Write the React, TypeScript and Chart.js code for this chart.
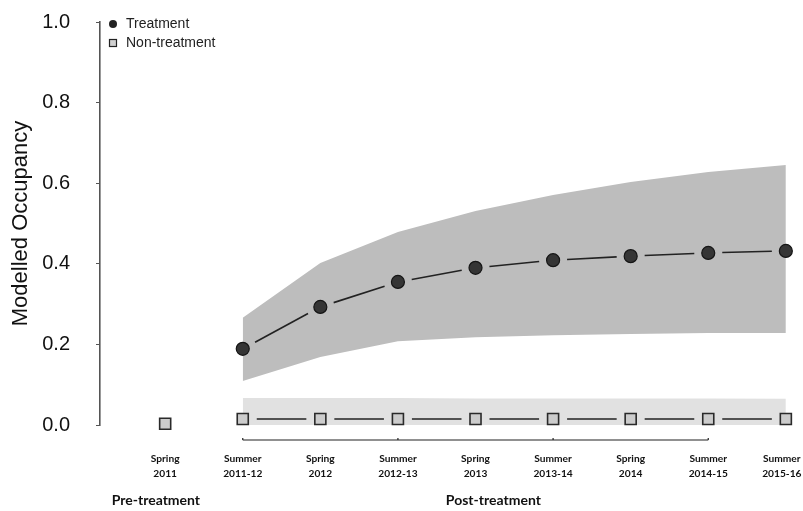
import React, { useEffect, useRef } from 'react';
import { Chart, registerables } from 'chart.js';

Chart.register(...registerables);

const categories: string[][] = [
  ['Spring', '2011'],
  ['Summer', '2011-12'],
  ['Spring', '2012'],
  ['Summer', '2012-13'],
  ['Spring', '2013'],
  ['Summer', '2013-14'],
  ['Spring', '2014'],
  ['Summer', '2014-15'],
  ['Summer', '2015-16'],
];

const treatment = [null, 0.189, 0.293, 0.355, 0.39, 0.409, 0.419, 0.427, 0.432];
const treatmentUpper = [null, 0.266, 0.402, 0.479, 0.531, 0.571, 0.603, 0.628, 0.645];
const treatmentLower = [null, 0.109, 0.169, 0.208, 0.218, 0.223, 0.226, 0.228, 0.228];

const nonTreatment = [0.003, 0.015, 0.015, 0.015, 0.015, 0.015, 0.015, 0.015, 0.015];
const nonTreatmentUpper = [null, 0.067, 0.067, 0.067, 0.066, 0.066, 0.066, 0.066, 0.065];
const nonTreatmentLower = [null, 0, 0, 0, 0, 0, 0, 0, 0];

const yTicks = [0, 0.2, 0.4, 0.6, 0.8, 1.0];

const legendLabels = ['Treatment', 'Non-treatment'];
const phaseLabels = ['Pre-treatment', 'Post-treatment'];

const toPts = (arr: (number | null)[]) => arr.map((v, i) => ({ x: i, y: v }));

const gapLinePlugin = {
  id: 'gapLines',
  afterDatasetsDraw(chart: any) {
    const ctx = chart.ctx;
    ctx.save();
    ctx.strokeStyle = '#222';
    ctx.lineWidth = 1.6;
    [0, 1].forEach((di) => {
      const meta = chart.getDatasetMeta(di);
      const pts = meta.data;
      for (let j = 1; j < pts.length - 1; j++) {
        const a = pts[j];
        const b = pts[j + 1];
        if (!a || !b || a.skip || b.skip) continue;
        const dx = b.x - a.x;
        const dy = b.y - a.y;
        const len = Math.sqrt(dx * dx + dy * dy);
        const gap = 14;
        if (len <= gap * 2) continue;
        const ux = dx / len;
        const uy = dy / len;
        ctx.beginPath();
        ctx.moveTo(a.x + ux * gap, a.y + uy * gap);
        ctx.lineTo(b.x - ux * gap, b.y - uy * gap);
        ctx.stroke();
      }
    });
    ctx.restore();
  },
};

// keep the last x label inside the canvas, as in the reference
const edgeLabelPlugin = {
  id: 'edgeLabel',
  beforeDraw(chart: any) {
    const xs = chart.scales.x;
    if (!xs || !xs.getLabelItems) return;
    const items = xs.getLabelItems();
    const last = items[items.length - 1];
    if (last && last.options && last.options.translation && !last.__shifted) {
      last.options.translation[0] -= 4;
      last.__shifted = true;
    }
  },
};

const decorPlugin = {
  id: 'decor',
  afterDraw(chart: any) {
    const ctx = chart.ctx;
    const xs = chart.scales.x;
    const ys = chart.scales.y;
    const area = chart.chartArea;
    ctx.save();

    // bracket under post-treatment points
    const by = ys.bottom + 15;
    const x1 = xs.getPixelForValue(1);
    const x2 = xs.getPixelForValue(7);
    ctx.strokeStyle = '#222';
    ctx.lineWidth = 1.2;
    ctx.beginPath();
    ctx.moveTo(x1, by);
    ctx.lineTo(x2, by);
    [1, 3, 5, 7].forEach((i) => {
      const px = xs.getPixelForValue(i);
      ctx.moveTo(px, by - 2);
      ctx.lineTo(px, by);
    });
    ctx.stroke();

    // phase labels
    ctx.fillStyle = '#111';
    ctx.font = 'bold 14px Lato, "Open Sans", sans-serif';
    ctx.textAlign = 'center';
    ctx.textBaseline = 'middle';
    ctx.fillText(phaseLabels[0], xs.getPixelForValue(-0.12), 500);
    ctx.fillText(phaseLabels[1], xs.getPixelForValue(4.23), 500);

    // legend
    const lx = area.left + 13;
    const ly1 = area.top + 2;
    const ly2 = ly1 + 19;
    ctx.fillStyle = '#222';
    ctx.beginPath();
    ctx.arc(lx, ly1, 4, 0, Math.PI * 2);
    ctx.fill();
    ctx.fillStyle = '#d0d0d0';
    ctx.strokeStyle = '#222';
    ctx.lineWidth = 1.2;
    ctx.fillRect(lx - 3.5, ly2 - 3.5, 7, 7);
    ctx.strokeRect(lx - 3.5, ly2 - 3.5, 7, 7);
    ctx.fillStyle = '#222';
    ctx.font = '14px "Liberation Sans", Arial, sans-serif';
    ctx.textAlign = 'left';
    ctx.fillText(legendLabels[0], lx + 13, ly1);
    ctx.fillText(legendLabels[1], lx + 13, ly2);

    ctx.restore();
  },
};

export default function App() {
  const ref = useRef<HTMLCanvasElement | null>(null);

  useEffect(() => {
    document.body.style.margin = '0';
    if (!ref.current) return;
    const chart = new Chart(ref.current, {
      type: 'line',
      data: {
        datasets: [
          {
            label: 'Non-treatment',
            data: toPts(nonTreatment),
            showLine: false,
            pointStyle: 'rect',
            pointRadius: 7.8,
            pointBackgroundColor: '#cccccc',
            pointBorderColor: '#2a2a2a',
            pointBorderWidth: 1.6,
            clip: false,
          },
          {
            label: 'Treatment',
            data: toPts(treatment),
            showLine: false,
            pointStyle: 'circle',
            pointRadius: 6.5,
            pointBackgroundColor: '#353535',
            pointBorderColor: '#151515',
            pointBorderWidth: 1.2,
            clip: false,
          },
          {
            label: 'Treatment upper',
            data: toPts(treatmentUpper),
            borderWidth: 0,
            pointRadius: 0,
            backgroundColor: '#bdbdbd',
            fill: '+1',
            tension: 0,
          },
          {
            label: 'Treatment lower',
            data: toPts(treatmentLower),
            borderWidth: 0,
            pointRadius: 0,
            fill: false,
          },
          {
            label: 'Non-treatment upper',
            data: toPts(nonTreatmentUpper),
            borderWidth: 0,
            pointRadius: 0,
            backgroundColor: '#e1e1e1',
            fill: '+1',
          },
          {
            label: 'Non-treatment lower',
            data: toPts(nonTreatmentLower),
            borderWidth: 0,
            pointRadius: 0,
            fill: false,
          },
        ],
      },
      options: {
        animation: false,
        responsive: true,
        maintainAspectRatio: false,
        layout: { padding: { top: 22, right: 9, left: 0, bottom: 0 } },
        plugins: {
          legend: { display: false },
          tooltip: { enabled: false },
        },
        scales: {
          x: {
            type: 'linear',
            min: -0.84,
            max: 8.1,
            afterBuildTicks: (s: any) => {
              s.ticks = categories.map((_, i) => ({ value: i }));
            },
            afterFit: (s: any) => {
              s.height = 86;
              s.paddingLeft = 0;
              s.paddingRight = 0;
            },
            grid: { display: false },
            border: { display: false },
            ticks: {
              autoSkip: false,
              maxRotation: 0,
              padding: 19,
              color: '#111',
              font: { family: 'Lato, "Open Sans", sans-serif', size: 10.2, weight: 'bold', lineHeight: 1.4 },
              callback: (v: any) => categories[Math.round(v)] ?? '',
            },
          },
          y: {
            type: 'linear',
            min: 0,
            max: 1,
            afterBuildTicks: (s: any) => {
              s.ticks = yTicks.map((v) => ({ value: v }));
            },
            afterFit: (s: any) => {
              s.width = 100;
              s.paddingTop = 0;
              s.paddingBottom = 0;
            },
            grid: {
              display: true,
              drawOnChartArea: false,
              drawTicks: true,
              tickLength: 4,
              color: '#555',
            },
            border: { display: true, color: '#555', width: 1.6 },
            title: {
              display: true,
              text: 'Modelled Occupancy',
              color: '#111',
              font: { family: '"Liberation Sans", Arial, sans-serif', size: 22 },
              padding: { top: 8, bottom: 0 },
            },
            ticks: {
              padding: 26,
              color: '#111',
              font: { family: '"Liberation Sans", Arial, sans-serif', size: 20 },
              callback: (v: any) => Number(v).toFixed(1),
            },
          },
        },
      },
      plugins: [edgeLabelPlugin, gapLinePlugin, decorPlugin],
    } as any);
    return () => chart.destroy();
  }, []);

  return (
    <div style={{ width: 803, height: 511, position: 'relative' }}>
      <canvas ref={ref} />
    </div>
  );
}
